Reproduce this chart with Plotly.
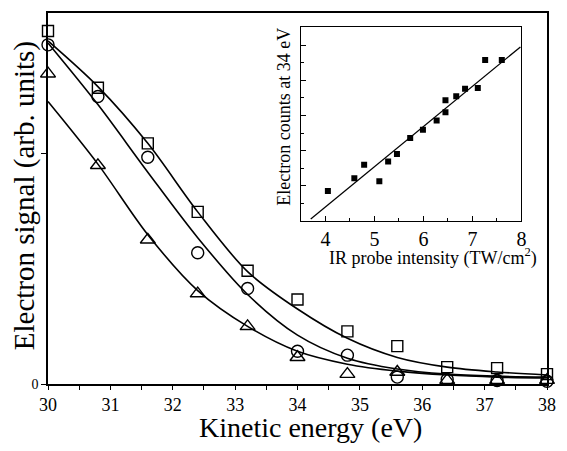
import plotly.graph_objects as go

# ---- main panel data ----
energy = [30.0, 30.8, 31.6, 32.4, 33.2, 34.0, 34.8, 35.6, 36.4, 37.2, 38.0]
square_pts = [1.530, 1.284, 1.043, 0.746, 0.491, 0.366, 0.228, 0.164, 0.073, 0.069, 0.043]
circle_pts = [1.470, 1.246, 0.983, 0.569, 0.414, 0.142, 0.125, 0.030, 0.020, 0.015, 0.012]
triangle_pts = [1.345, 0.948, 0.625, 0.392, 0.250, 0.116, 0.043, 0.052, 0.017, 0.017, 0.017]

square_fit = [1.487, 1.289, 1.043, 0.746, 0.487, 0.325, 0.198, 0.115, 0.073, 0.052, 0.039]
circle_fit = [1.478, 1.211, 0.918, 0.634, 0.388, 0.212, 0.112, 0.065, 0.043, 0.034, 0.030]
triangle_fit = [1.224, 0.953, 0.647, 0.405, 0.250, 0.142, 0.086, 0.056, 0.039, 0.030, 0.026]

x_ticks = [30, 31, 32, 33, 34, 35, 36, 37, 38]

# ---- inset data ----
intensity = [4.05, 4.59, 4.79, 5.10, 5.28, 5.46, 5.73, 5.99, 6.27, 6.45, 6.45, 6.67, 6.85, 7.11, 7.26, 7.60]
counts = [0.85, 1.21, 1.60, 1.13, 1.69, 1.90, 2.36, 2.59, 2.86, 3.09, 3.43, 3.55, 3.76, 3.78, 4.58, 4.58]
line_x = [3.70, 7.98]
line_y = [0.05, 4.95]
inset_ticks = [4, 5, 6, 7, 8]

FONT = "Liberation Serif"
BLACK = "black"

fig = go.Figure()

for fit in (square_fit, circle_fit, triangle_fit):
    fig.add_trace(go.Scatter(x=energy, y=fit, mode="lines",
                             line=dict(color=BLACK, width=1.6, shape="spline", smoothing=0.9),
                             showlegend=False, hoverinfo="skip", cliponaxis=False))

for pts, sym, sz in ((square_pts, "square-open", 11),
                     (circle_pts, "circle-open", 12),
                     (triangle_pts, "triangle-up-open", 13)):
    fig.add_trace(go.Scatter(x=energy, y=pts, mode="markers",
                             marker=dict(symbol=sym, size=sz, color=BLACK,
                                         line=dict(color=BLACK, width=1.4)),
                             showlegend=False, cliponaxis=False))

fig.add_trace(go.Scatter(x=line_x, y=line_y, mode="lines", xaxis="x2", yaxis="y2",
                         line=dict(color=BLACK, width=1.3), showlegend=False))
fig.add_trace(go.Scatter(x=intensity, y=counts, mode="markers", xaxis="x2", yaxis="y2",
                         marker=dict(symbol="square", size=6, color=BLACK),
                         showlegend=False))

fig.update_layout(
    width=567, height=451,
    margin=dict(l=48, r=12, t=11, b=67),
    paper_bgcolor="white", plot_bgcolor="white",
    font=dict(family=FONT, color=BLACK),
    xaxis=dict(range=[30, 38], tickvals=x_ticks, ticks="outside", ticklen=4, tickwidth=1.2,
               tickcolor=BLACK, minor=dict(dtick=0.5, ticks="outside", ticklen=4, tickcolor=BLACK),
               showline=True, linecolor=BLACK, linewidth=1.5, mirror=True,
               showgrid=False, zeroline=False, tickfont=dict(size=18, family=FONT)),
    yaxis=dict(range=[0, 1.608], tickvals=[0], ticks="outside",
               ticklen=5, tickwidth=1.2, tickcolor=BLACK,
               minor=dict(tickvals=[1], ticks="outside", ticklen=5, tickwidth=1.2, tickcolor=BLACK),
               showline=True, linecolor=BLACK, linewidth=1.5, mirror=True,
               showgrid=False, zeroline=False, tickfont=dict(size=14, family=FONT)),
    xaxis2=dict(domain=[0.5069, 0.9487], anchor="y2", range=[3.5, 8], tickvals=inset_ticks,
                ticks="inside", ticklen=5, tickcolor=BLACK,
                minor=dict(dtick=0.5, ticks="inside", ticklen=3, tickcolor=BLACK),
                showline=True, linecolor=BLACK, linewidth=1.2, mirror=True,
                showgrid=False, zeroline=False, tickfont=dict(size=20, family=FONT)),
    yaxis2=dict(domain=[0.4397, 0.9625], anchor="x2", range=[0, 5.52],
                tickvals=[1, 2, 3, 4, 5], showticklabels=False,
                ticks="inside", ticklen=5, tickcolor=BLACK,
                minor=dict(dtick=0.5, ticks="inside", ticklen=3, tickcolor=BLACK),
                showline=True, linecolor=BLACK, linewidth=1.2, mirror=True,
                showgrid=False, zeroline=False),
    annotations=[
        dict(text="Kinetic energy (eV)", xref="paper", yref="paper", x=0.526, y=-0.118,
             showarrow=False, font=dict(size=28, family=FONT), xanchor="center", yanchor="middle"),
        dict(text="Electron signal (arb. units)", xref="paper", yref="paper", x=-0.0454, y=0.507,
             showarrow=False, textangle=-90, font=dict(size=29, family=FONT),
             xanchor="center", yanchor="middle"),
        dict(text="Electron counts at 34 eV", xref="paper", yref="paper", x=0.4734, y=0.7212,
             showarrow=False, textangle=-90, font=dict(size=18, family=FONT),
             xanchor="center", yanchor="middle"),
        dict(text="IR probe intensity (TW/cm<sup>2</sup>)", xref="paper", yref="paper",
             x=0.7712, y=0.3432, showarrow=False, font=dict(size=18, family=FONT),
             xanchor="center", yanchor="middle"),
    ],
)

fig.write_html("out.html")
